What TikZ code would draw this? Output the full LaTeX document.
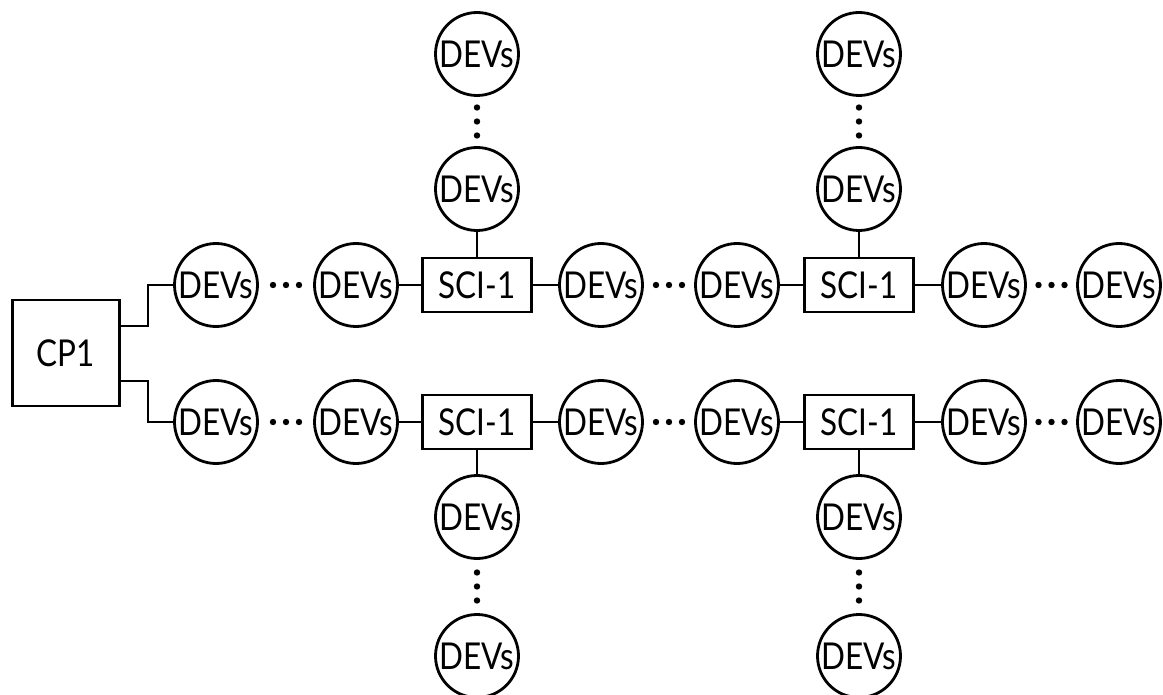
\documentclass[tikz,border=0pt]{standalone}
\usepackage{fontspec}
\setmainfont[FakeStretch=0.85]{Lato}
\usetikzlibrary{calc}
\begin{document}
\begin{tikzpicture}[x=1pt, y=-1pt, line width=2.8pt,
  lbl/.style={font=\fontsize{37}{40}\selectfont, inner sep=0pt},
  dev/.style={lbl, circle, draw, minimum size=83pt},
  sci/.style={lbl, rectangle, draw, minimum width=109pt, minimum height=54pt},
  cpbox/.style={lbl, rectangle, draw, minimum width=107pt, minimum height=106pt},
  link/.style={line width=2.8pt}]
\useasboundingbox (0,0) rectangle (1163,695);

% three dots between two nodes, horizontal or vertical
\newcommand{\hdots}[2]{\foreach \d in {-13,0,13}
  \fill ($(#1.east)!0.5!(#2.west)+(\d,0)$) circle (3.2);}
\newcommand{\vdotsbetween}[2]{\foreach \d in {-14,0,14}
  \fill ($(#1.south)!0.5!(#2.north)+(0,\d)$) circle (3.2);}

% central controller
\node[cpbox] (cp) at (66,353) {CP1};

% two chains: top (t) and bottom (b)
\foreach \r/\yy in {t/285, b/422} {
  \node[dev] (\r1) at (216,\yy) {DEVs};
  \node[dev] (\r2) at (356,\yy) {DEVs};
  \node[sci] (\r s1) at (477,\yy) {SCI-1};
  \node[dev] (\r3) at (601,\yy) {DEVs};
  \node[dev] (\r4) at (737,\yy) {DEVs};
  \node[sci] (\r s2) at (859,\yy) {SCI-1};
  \node[dev] (\r5) at (984,\yy) {DEVs};
  \node[dev] (\r6) at (1119,\yy) {DEVs};
}

% branches above the top chain
\node[dev] (u1a) at (477,189) {DEVs};
\node[dev] (u1b) at (477,54) {DEVs};
\node[dev] (u2a) at (859,189) {DEVs};
\node[dev] (u2b) at (859,54) {DEVs};
% branches below the bottom chain
\node[dev] (d1a) at (477,517) {DEVs};
\node[dev] (d1b) at (477,656) {DEVs};
\node[dev] (d2a) at (859,517) {DEVs};
\node[dev] (d2b) at (859,656) {DEVs};

% controller to both chains
\draw[link] ([yshift=27pt]cp.east) -- ++(27,0) |- (t1.west);
\draw[link] ([yshift=-28pt]cp.east) -- ++(27,0) |- (b1.west);

% chain links
\foreach \r in {t,b} {
  \draw[link] (\r2) -- (\r s1);
  \draw[link] (\r s1) -- (\r3);
  \draw[link] (\r4) -- (\r s2);
  \draw[link] (\r s2) -- (\r5);
}
\draw[link] (ts1) -- (u1a);
\draw[link] (ts2) -- (u2a);
\draw[link] (bs1) -- (d1a);
\draw[link] (bs2) -- (d2a);

% elided devices
\foreach \r in {t,b} {
  \hdots{\r1}{\r2}
  \hdots{\r3}{\r4}
  \hdots{\r5}{\r6}
}
\vdotsbetween{u1b}{u1a}
\vdotsbetween{u2b}{u2a}
\vdotsbetween{d1a}{d1b}
\vdotsbetween{d2a}{d2b}
\end{tikzpicture}
\end{document}
